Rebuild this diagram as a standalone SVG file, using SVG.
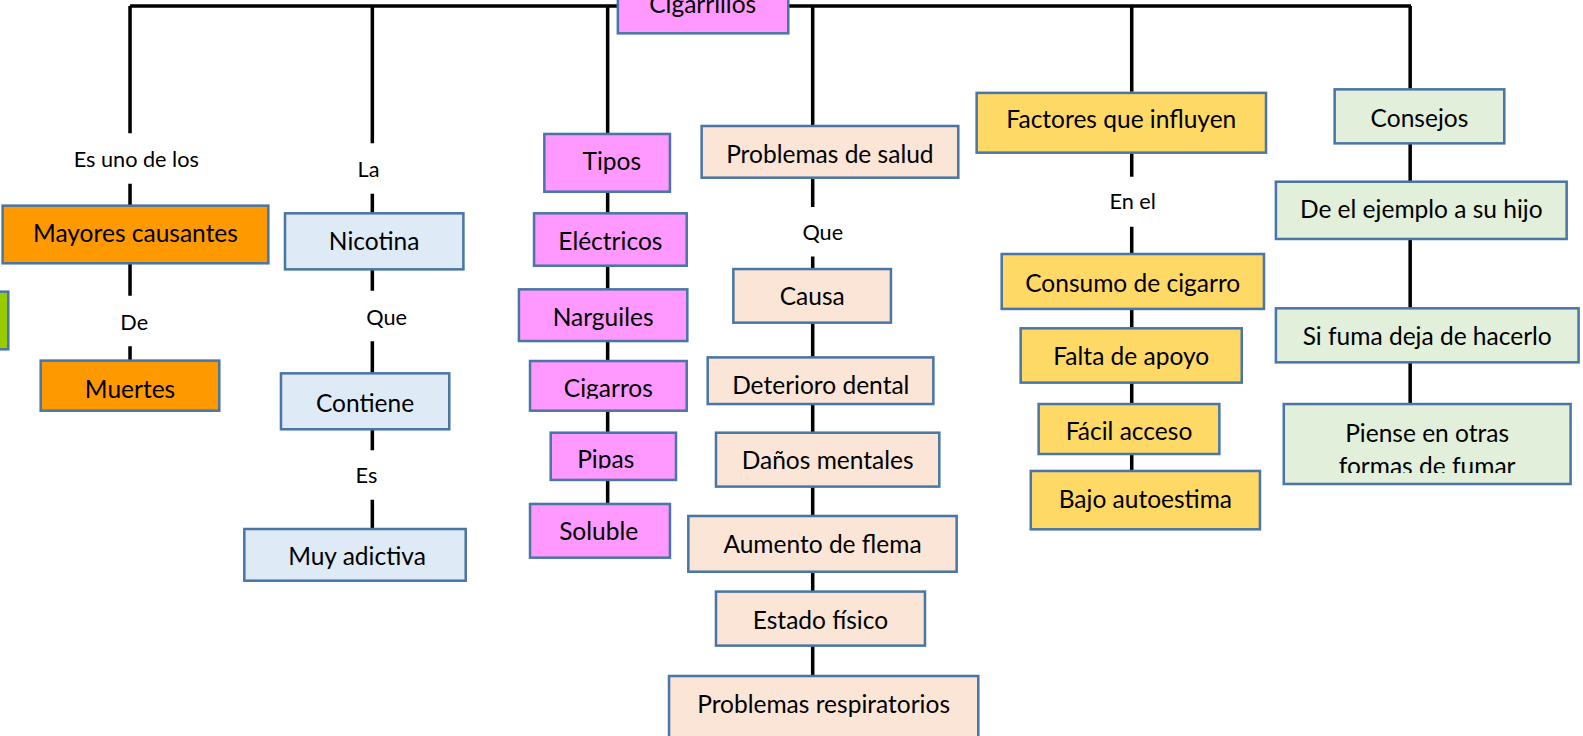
<svg xmlns="http://www.w3.org/2000/svg" width="1583" height="736" viewBox="0 0 1583 736">
<style>
.ln{stroke:#000;stroke-width:3.5;fill:none}
.bx{stroke:#4a76a5;stroke-width:2.5}
.t{font-family:Lato,"Open Sans","Liberation Sans",sans-serif;font-size:24.3px;fill:#000;text-anchor:middle}
.lb{font-family:Lato,"Open Sans","Liberation Sans",sans-serif;font-size:21.5px;fill:#000;text-anchor:middle}
.or{fill:#ff9900}.bl{fill:#deebf7}.pk{fill:#ff99ff}.pe{fill:#fbe5d6}.ye{fill:#ffd966}.gr{fill:#e2efda}
</style>
<defs>
<clipPath id="cCig"><rect x="520" y="355" width="170" height="40"/></clipPath>
<clipPath id="cPip"><rect x="540" y="425" width="135" height="39"/></clipPath>
<clipPath id="cPie"><rect x="1265" y="398" width="295" height="70.5"/></clipPath>
</defs>
<rect width="1583" height="736" fill="#fff"/>
<g transform="scale(1.00957)">
<g id="connectors">
<path class="ln" d="M128.8,6 H1397.6"/>
<path class="ln" d="M128.8,6 V132 M128.8,182 V204 M128.8,261 V293 M128.8,343 V357"/>
<path class="ln" d="M368.8,6 V142 M368.8,192 V211 M368.8,267 V288 M368.8,338 V370 M368.8,425 V446 M368.8,495 V524"/>
<path class="ln" d="M601.9,6 V500"/>
<path class="ln" d="M805,6 V125 M805,176 V205 M805,254 V670"/>
<path class="ln" d="M1121,6 V91 M1121,151 V175 M1121,224.5 V467"/>
<path class="ln" d="M1396.8,6 V400"/>
<text class="lb" x="135" y="165.7">Es uno de los</text>
<text class="lb" x="133" y="327">De</text>
<text class="lb" x="365" y="175.6">La</text>
<text class="lb" x="383" y="321.6">Que</text>
<text class="lb" x="363" y="478.6">Es</text>
<text class="lb" x="815" y="237.7">Que</text>
<text class="lb" x="1122" y="207">En el</text>
</g>
<g id="n-cigarrillos"><rect class="bx pk" x="612" y="-5" width="168.8" height="38"/><text class="t" x="696" y="13.2">Cigarrillos</text></g>
<g id="n-green"><rect class="bx" fill="#99cc00" x="-3" y="288.9" width="11.2" height="57.1"/></g>
<g id="n-mayores"><rect class="bx or" x="2.6" y="203.7" width="263.2" height="57.1"/><text class="t" x="134.2" y="240">Mayores causantes</text></g>
<g id="n-muertes"><rect class="bx or" x="40.3" y="357.2" width="176.9" height="49.6"/><text class="t" x="128.8" y="394">Muertes</text></g>
<g id="n-nicotina"><rect class="bx bl" x="282.3" y="211.3" width="176.7" height="55.5"/><text class="t" x="370.6" y="247.6">Nicotina</text></g>
<g id="n-contiene"><rect class="bx bl" x="278.3" y="369.8" width="166.7" height="55.4"/><text class="t" x="361.6" y="407.8">Contiene</text></g>
<g id="n-adictiva"><rect class="bx bl" x="242" y="524" width="219.3" height="51.2"/><text class="t" x="353.6" y="560">Muy adictiva</text></g>
<g id="n-tipos"><rect class="bx pk" x="539.2" y="132.7" width="124.4" height="57.2"/><text class="t" x="606" y="168.4">Tipos</text></g>
<g id="n-electricos"><rect class="bx pk" x="529" y="211.3" width="151.2" height="51.9"/><text class="t" x="604.6" y="247.6">Eléctricos</text></g>
<g id="n-narguiles"><rect class="bx pk" x="514" y="286.6" width="166.8" height="51.2"/><text class="t" x="597.4" y="323">Narguiles</text></g>
<g id="n-cigarros"><rect class="bx pk" x="525" y="357.6" width="155.2" height="49.2"/><text class="t" x="602.6" y="393.7" clip-path="url(#cCig)">Cigarros</text></g>
<g id="n-pipas"><rect class="bx pk" x="545.5" y="428.6" width="124.1" height="46.8"/><text class="t" x="600" y="463.6" clip-path="url(#cPip)">Pipas</text></g>
<g id="n-soluble"><rect class="bx pk" x="525" y="499.2" width="138.6" height="53.2"/><text class="t" x="593" y="535">Soluble</text></g>
<g id="n-salud"><rect class="bx pe" x="695" y="124.8" width="254.2" height="51.2"/><text class="t" x="822" y="161.8">Problemas de salud</text></g>
<g id="n-causa"><rect class="bx pe" x="726.4" y="266.5" width="156.1" height="53.1"/><text class="t" x="804.5" y="302">Causa</text></g>
<g id="n-dental"><rect class="bx pe" x="701" y="354" width="223.5" height="46.2"/><text class="t" x="813" y="390.3">Deterioro dental</text></g>
<g id="n-mentales"><rect class="bx pe" x="709.2" y="428.6" width="221.2" height="53.4"/><text class="t" x="819.8" y="464.8">Daños mentales</text></g>
<g id="n-flema"><rect class="bx pe" x="681.8" y="511.1" width="265.8" height="55.2"/><text class="t" x="814.7" y="548">Aumento de flema</text></g>
<g id="n-fisico"><rect class="bx pe" x="709.2" y="586" width="207" height="53.5"/><text class="t" x="812.7" y="623.4">Estado físico</text></g>
<g id="n-respiratorios"><rect class="bx pe" x="662.7" y="669.6" width="306.3" height="80"/><text class="t" x="815.8" y="706">Problemas respiratorios</text></g>
<g id="n-factores"><rect class="bx ye" x="967.4" y="92" width="286.6" height="59.2"/><text class="t" x="1110.7" y="127">Factores que influyen</text></g>
<g id="n-consumo"><rect class="bx ye" x="992.2" y="251.6" width="259.8" height="54.4"/><text class="t" x="1122" y="289">Consumo de cigarro</text></g>
<g id="n-apoyo"><rect class="bx ye" x="1011" y="325.2" width="219" height="53.8"/><text class="t" x="1120.5" y="361.5">Falta de apoyo</text></g>
<g id="n-acceso"><rect class="bx ye" x="1028.8" y="400.2" width="179" height="49.5"/><text class="t" x="1118.3" y="436">Fácil acceso</text></g>
<g id="n-autoestima"><rect class="bx ye" x="1021" y="466.5" width="227" height="57.8"/><text class="t" x="1134.5" y="503.5">Bajo autoestima</text></g>
<g id="n-consejos"><rect class="bx gr" x="1322" y="88.5" width="168" height="53.5"/><text class="t" x="1406" y="125.5">Consejos</text></g>
<g id="n-ejemplo"><rect class="bx gr" x="1263.8" y="180" width="288" height="56.7"/><text class="t" x="1407.8" y="216">De el ejemplo a su hijo</text></g>
<g id="n-fuma"><rect class="bx gr" x="1263.8" y="305.4" width="299.8" height="53.5"/><text class="t" x="1413.7" y="341.7">Si fuma deja de hacerlo</text></g>
<g id="n-piense"><rect class="bx gr" x="1271.6" y="400.2" width="284.1" height="79.2"/><g clip-path="url(#cPie)"><text class="t" x="1413.6" y="437.5">Piense en otras</text><text class="t" x="1413.6" y="470.5">formas de fumar</text></g></g>
</g>
</svg>
